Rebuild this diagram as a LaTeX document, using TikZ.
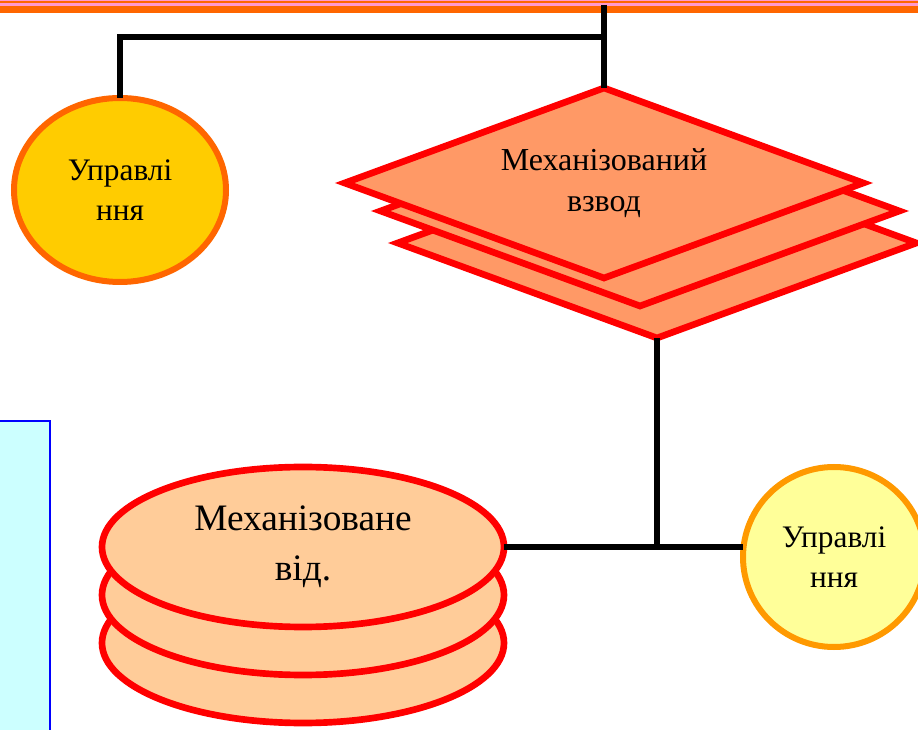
\documentclass[tikz,border=0pt]{standalone}
\usepackage{fontspec}
\setmainfont{Liberation Serif}
\usetikzlibrary{shapes.geometric}
\definecolor{barorange}{HTML}{FF6600}
\definecolor{barpink}{HTML}{FF99CC}
\definecolor{panelcyan}{HTML}{CCFFFF}
\definecolor{dmfill}{HTML}{FF9966}
\definecolor{vidfill}{HTML}{FFCC99}
\definecolor{uprfill}{HTML}{FFCC00}
\definecolor{uprdraw}{HTML}{FF6600}
\definecolor{uprfillb}{HTML}{FFFF99}
\definecolor{uprdrawb}{HTML}{FF9900}
\tikzset{
  dm/.style={diamond, aspect=2.73, draw=red, fill=dmfill, line width=5pt, minimum width=389pt, minimum height=142.5pt, inner sep=0pt, outer sep=0pt, align=center, font=\fontsize{24pt}{31pt}\selectfont},
  ov/.style={ellipse, line width=4.5pt, inner sep=0pt, outer sep=0pt, align=center},
  up/.style={ov, font=\fontsize{23.5pt}{30pt}\selectfont},
  vd/.style={ov, draw=red, fill=vidfill, line width=5pt, minimum width=301.5pt, minimum height=120pt, font=\fontsize{28pt}{37.5pt}\selectfont},
  ln/.style={line width=4.5pt}
}
\begin{document}
\begin{tikzpicture}[x=0.75pt,y=-0.75pt]
  \useasboundingbox (0,0) rectangle (918,730);
  \fill[barorange] (0,0) rectangle (918,13);
  \fill[barpink] (0,0) rectangle (918,1);
  \fill[barpink] (0,3) rectangle (918,6.5);
  \draw[blue, fill=panelcyan, line width=1.5pt] (-5,421) rectangle (50,740);

  \node[dm] (vzvod3) at (657,243) {};
  \node[dm] (vzvod2) at (640,211) {};
  \node[dm] (vzvod) at (604,183) {Механізований\\взвод};

  \node[up, draw=uprdraw, fill=uprfill, minimum width=159pt, minimum height=138pt] (upr1) at (120,190) {Управлі\\ння};
  \node[up, draw=uprdrawb, fill=uprfillb, minimum width=136.5pt, minimum height=135pt] (upr2) at (834,557) {Управлі\\ння};

  \node[vd] (vid3) at (303,643) {};
  \node[vd] (vid2) at (303,595) {};
  \node[vd] (vid) at (303,547) {Механізоване\\від.};

  \coordinate (top) at (604,5);
  \coordinate (fork) at (604,37);
  \draw[ln] (top) -- (vzvod.north);
  \draw[ln] (fork) -| (upr1.north);
  \draw[ln] (vzvod3.south) -- (vzvod3.south |- vid.east);
  \draw[ln] (vid.east) -- (vid.east -| upr2.west);
\end{tikzpicture}
\end{document}
